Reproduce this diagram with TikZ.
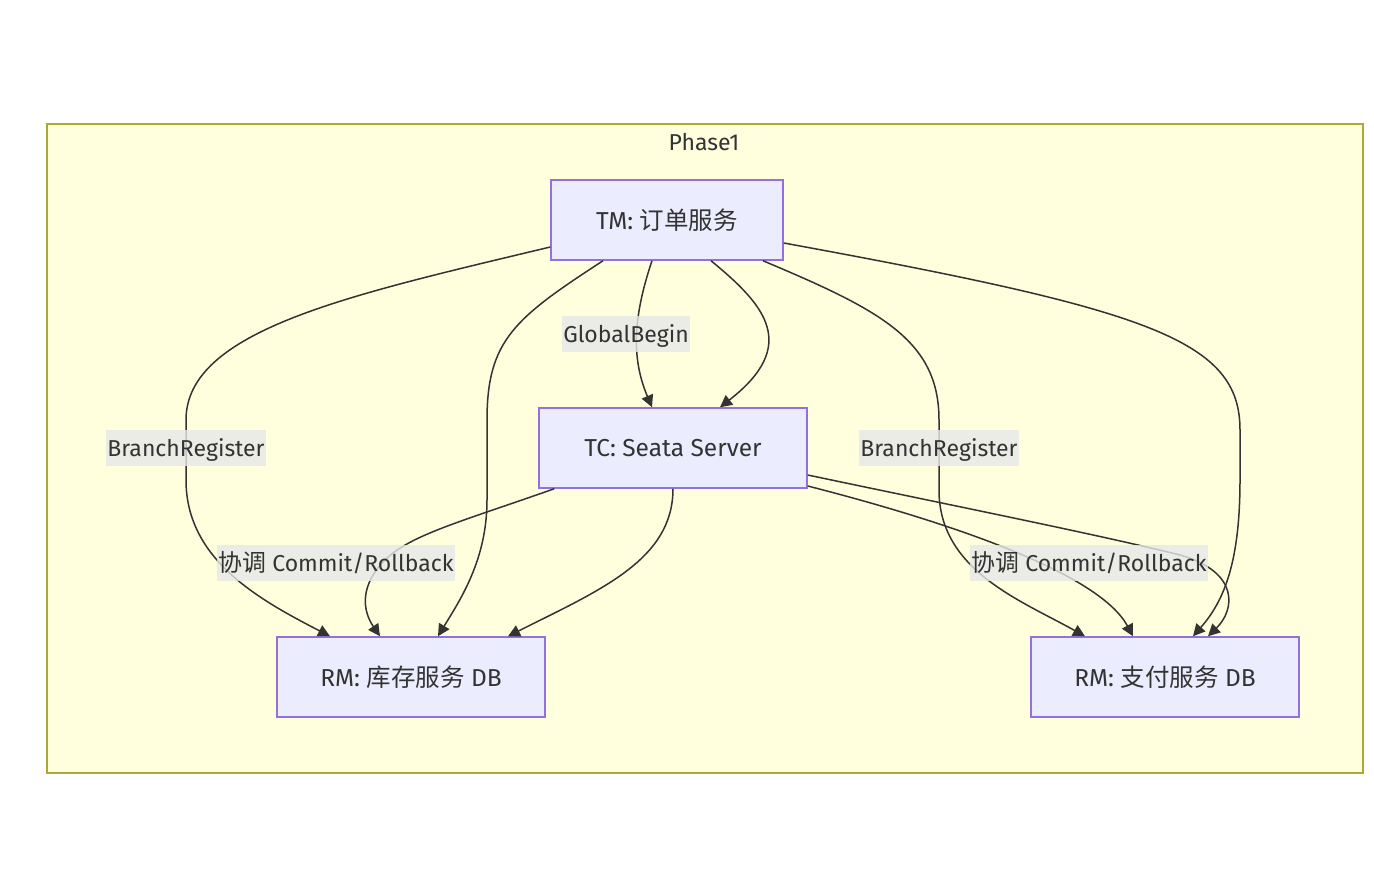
\documentclass[tikz,border=0pt]{standalone}
\usepackage{fontspec}
\setmainfont{Fira Sans}
\newfontfamily\cjk[Scale=1.04]{Noto Sans CJK SC}
\newfontfamily\cjkn{Noto Sans CJK SC}
\usetikzlibrary{arrows.meta}
\definecolor{clfill}{HTML}{FFFFDE}
\definecolor{cldraw}{HTML}{AAAA33}
\definecolor{ndfill}{HTML}{ECECFF}
\definecolor{nddraw}{HTML}{9370DB}
\definecolor{ink}{HTML}{333333}
\definecolor{lblfill}{HTML}{E8E8E8}
\tikzset{
  box/.style={draw=nddraw, fill=ndfill, line width=1.5pt, minimum height=80pt, inner sep=0pt, text=ink, font=\fontsize{24.5}{28}\selectfont},
  edge/.style={draw=ink, line width=1.5pt, -{Triangle[length=12pt,width=12pt]}},
  elabel/.style={fill=lblfill, fill opacity=0.8, text opacity=1, text=ink, inner xsep=1pt, inner ysep=0pt, text height=21pt, text depth=5pt, minimum height=36pt, font=\fontsize{23}{28}\selectfont},
}
\begin{document}
\begin{tikzpicture}[x=1pt,y=-1pt]
\useasboundingbox (0,0) rectangle (1374,871);
\fill[white] (0,0) rectangle (1374,871);
\node[draw=cldraw, fill=clfill, line width=1.5pt, minimum width=1316pt, minimum height=649pt, inner sep=0pt] (cluster) at (705,448.5) {};
\node[text=ink, font=\fontsize{23}{28}\selectfont] (title) at (704,142) {Phase1};

\node[box, minimum width=232pt] (tm) at (667,220) {TM: {\cjkn 订单服务}};
\node[box, minimum width=268pt] (tc) at (673,448) {TC: Seata Server};
\node[box, minimum width=268pt] (rma) at (411,677) {RM: {\cjkn 库存服务} DB};
\node[box, minimum width=268pt] (rmb) at (1165,677) {RM: {\cjkn 支付服务} DB};

% TM -> RM1 (BranchRegister)
\draw[edge] ([yshift=-27pt]tm.west) .. controls (350,295) and (186,330) .. (186,420) -- (186,480) .. controls (186,560) and (260,600) .. ([xshift=-81pt]rma.north);
% TM -> RM1
\draw[edge] ([xshift=-64pt]tm.south) .. controls (515,318) and (487,340) .. (487,420) -- (487,500) .. controls (487,560) and (460,600) .. ([xshift=27pt]rma.north);
% TM -> TC (GlobalBegin)
\draw[edge] ([xshift=-15pt]tm.south) .. controls (632,320) and (632,360) .. ([xshift=-21pt]tc.north);
% TM -> TC
\draw[edge] ([xshift=44pt]tm.south) .. controls (765,305) and (800,345) .. ([xshift=47pt]tc.north);
% TM -> RM2 (BranchRegister)
\draw[edge] ([xshift=96pt]tm.south) .. controls (880,310) and (939,340) .. (939,420) -- (939,490) .. controls (939,570) and (1020,600) .. ([xshift=-80pt]rmb.north);
% TM -> RM2
\draw[edge] ([yshift=-23pt]tm.east) .. controls (1150,310) and (1240,340) .. (1240,430) -- (1240,480) .. controls (1240,560) and (1225,600) .. ([xshift=28pt]rmb.north);
% TC -> RM1 (Commit/Rollback)
\draw[edge] ([xshift=16pt]tc.south west) .. controls (460,522) and (410,535) .. (385,560) .. controls (360,585) and (362,610) .. ([xshift=-31pt]rma.north);
% TC -> RM1
\draw[edge] (tc.south) .. controls (673,560) and (600,590) .. ([xshift=97pt]rma.north);
% TC -> RM2 (Commit/Rollback)
\draw[edge] ([yshift=-38pt]tc.east) .. controls (960,525) and (1100,575) .. ([xshift=-32pt]rmb.north);
% TC -> RM2
\draw[edge] ([yshift=-27pt]tc.east) .. controls (950,505) and (1100,535) .. (1180,555) .. controls (1240,572) and (1235,610) .. ([xshift=43pt]rmb.north);

\node[elabel] (l1) at (626,334) {GlobalBegin};
\node[elabel] (l2) at (186,448) {BranchRegister};
\node[elabel] (l3) at (939,448) {BranchRegister};
\node[elabel] (l4) at (336,563) {{\cjk 协调} Commit/Rollback};
\node[elabel] (l5) at (1089,563) {{\cjk 协调} Commit/Rollback};
\end{tikzpicture}
\end{document}
